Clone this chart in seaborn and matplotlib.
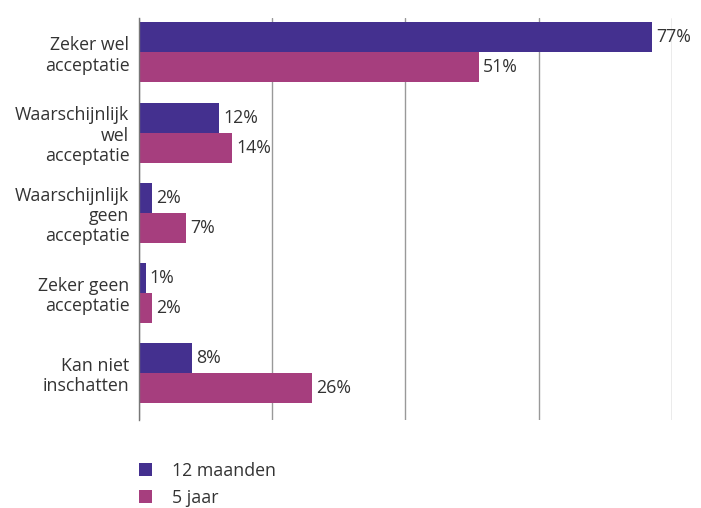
import matplotlib
matplotlib.use("Agg")
import matplotlib.pyplot as plt
import pandas as pd
import seaborn as sns

CATEGORIES = [
    "Zeker wel\nacceptatie",
    "Waarschijnlijk\nwel\nacceptatie",
    "Waarschijnlijk\ngeen\nacceptatie",
    "Zeker geen\nacceptatie",
    "Kan niet\ninschatten",
]
SERIES     = ["12 maanden", "5 jaar"]
VALS_12M   = [77, 12, 2, 1, 8]
VALS_5J    = [51, 14, 7, 2, 26]
COLORS     = ["#44308f", "#a63e7e"]
TEXT_COL   = "#333333"

df = pd.DataFrame({
    "categorie": CATEGORIES * 2,
    "reeks":     [SERIES[0]] * len(CATEGORIES) + [SERIES[1]] * len(CATEGORIES),
    "waarde":    VALS_12M + VALS_5J,
})

sns.set_style("white")
plt.rcParams["font.family"] = ["Open Sans", "DejaVu Sans"]

fig = plt.figure(figsize=(7.01, 5.08), dpi=100)
ax  = fig.add_axes([0.1983, 0.1732, 0.7603, 0.7913])

sns.barplot(
    data=df, y="categorie", x="waarde", hue="reeks",
    palette=COLORS, orient="h", width=0.75, ax=ax,
    saturation=1, edgecolor="none",
)

ax.set_xlim(0, 80)
ax.set_ylim(4.59, -0.43)
ax.set_xticks([0, 20, 40, 60, 80])
ax.set_xticklabels([])
ax.xaxis.grid(True, color="#999999", lw=1)
ax.set_axisbelow(True)
ax.tick_params(axis="both", length=0)
ax.tick_params(axis="y", labelsize=12.8, labelcolor=TEXT_COL, pad=7)
ax.set_xlabel("")
ax.set_ylabel("")
for lbl in ax.get_yticklabels():
    lbl.set_horizontalalignment("right")
    lbl.set_multialignment("right")
    lbl.set_linespacing(1.15)
for side in ["top", "right", "bottom"]:
    ax.spines[side].set_visible(False)
ax.spines["left"].set_color("#777777")
ax.spines["left"].set_linewidth(1)

for cont in ax.containers:
    ax.bar_label(cont, labels=[f"{v:.0f}%" for v in cont.datavalues],
                 padding=3, fontsize=12.8, color=TEXT_COL)

sns.move_legend(
    ax, "upper left", bbox_to_anchor=(-0.03, -0.065), frameon=False,
    title=None, fontsize=12.8, handlelength=0.75, handleheight=0.75,
    handletextpad=1.1, labelspacing=0.5, labelcolor=TEXT_COL,
)

fig.savefig("out.png", dpi=100)
